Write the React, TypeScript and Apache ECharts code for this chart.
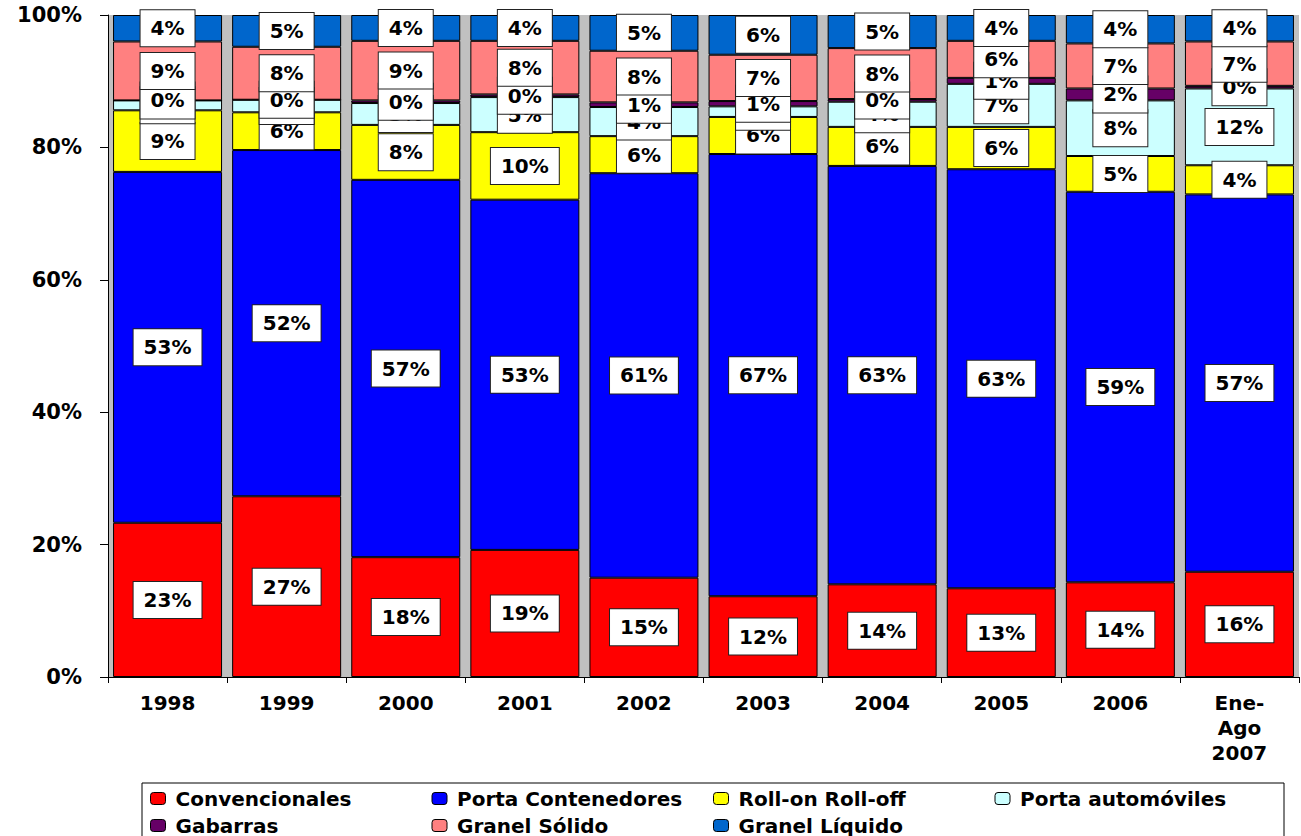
import React, { useEffect, useRef } from "react";
import * as echarts from "echarts";

const categories = ["1998", "1999", "2000", "2001", "2002", "2003", "2004", "2005", "2006", "Ene-\nAgo\n2007"];
const seriesNames = [
  "Convencionales",
  "Porta Contenedores",
  "Roll-on Roll-off",
  "Porta automóviles",
  "Gabarras",
  "Granel Sólido",
  "Granel Líquido",
];
const convencionales = [23.3, 27.3, 18.1, 19.2, 15.0, 12.2, 14.0, 13.4, 14.3, 15.9];
const portaContenedores = [53.0, 52.3, 57.0, 52.9, 61.1, 66.8, 63.2, 63.3, 59.0, 57.0];
const rollOnRollOff = [9.3, 5.7, 8.3, 10.2, 5.6, 5.6, 5.9, 6.4, 5.4, 4.4];
const portaAutomoviles = [1.5, 1.9, 3.3, 5.3, 4.4, 1.6, 3.8, 6.5, 8.4, 11.6];
const gabarras = [0.0, 0.0, 0.4, 0.4, 0.7, 0.8, 0.4, 0.9, 1.8, 0.4];
const granelSolido = [8.9, 8.0, 9.0, 8.1, 7.8, 7.0, 7.7, 5.6, 6.8, 6.7];
const granelLiquido = [4.0, 4.8, 3.9, 3.9, 5.4, 6.0, 5.0, 3.9, 4.3, 4.0];
const seriesValues = [
  convencionales,
  portaContenedores,
  rollOnRollOff,
  portaAutomoviles,
  gabarras,
  granelSolido,
  granelLiquido,
];
const colors = ["#FF0000", "#0000FF", "#FFFF00", "#CCFFFF", "#660066", "#FF8080", "#0066CC"];

const FONT = "DejaVu Sans";

export default function App() {
  const ref = useRef<HTMLDivElement>(null);
  useEffect(() => {
    if (!ref.current) return;
    const chart = echarts.init(ref.current, null, { renderer: "svg" });
    chart.setOption({
      animation: false,
      grid: {
        left: 108,
        right: 2,
        top: 15,
        bottom: 159,
        show: true,
        backgroundColor: "#C0C0C0",
        borderWidth: 0,
      },
      legend: {
        data: seriesNames,
        left: 142,
        top: 783,
        width: 1130,
        orient: "horizontal",
        itemWidth: 15,
        itemHeight: 12,
        itemGap: 0,
        padding: [2, 8, 2, 8],
        borderColor: "#000",
        borderWidth: 1,
        backgroundColor: "#fff",
        itemStyle: { borderColor: "#000", borderWidth: 1 },
        textStyle: {
          fontFamily: FONT,
          fontWeight: "bold",
          fontSize: 20,
          color: "#000",
          width: 256,
          lineHeight: 27,
          padding: [0, 0, 0, 5],
        },
      },
      xAxis: {
        type: "category",
        data: categories,
        axisLine: { lineStyle: { color: "#000", width: 1 } },
        axisTick: { show: true, length: 6, lineStyle: { color: "#000" } },
        axisLabel: {
          fontFamily: FONT,
          fontWeight: "bold",
          fontSize: 20,
          color: "#000",
          margin: 13,
          lineHeight: 25,
          interval: 0,
        },
      },
      yAxis: {
        type: "value",
        min: 0,
        max: 100,
        interval: 20,
        splitLine: { show: false },
        axisLine: { show: true, lineStyle: { color: "#000", width: 1 } },
        axisTick: { show: true, length: 8, lineStyle: { color: "#000" } },
        axisLabel: {
          formatter: "{value}%",
          fontFamily: FONT,
          fontWeight: "bold",
          fontSize: 21,
          color: "#000",
          margin: 26,
        },
      },
      series: seriesNames.map((name, i) => ({
        name,
        type: "bar",
        stack: "total",
        barWidth: 109,
        data: seriesValues[i],
        itemStyle: { color: colors[i], borderColor: "#000", borderWidth: 1 },
        label: {
          show: true,
          position: "inside",
          formatter: (p: any) => Math.round(p.value) + "%",
          fontFamily: FONT,
          fontWeight: "bold",
          fontSize: 20,
          lineHeight: 20,
          color: "#000",
          backgroundColor: "#fff",
          borderColor: "#222",
          borderWidth: 1,
          padding: [8, 10],
        },
      })),
    });
    return () => chart.dispose();
  }, []);
  return (
    <div
      ref={ref}
      style={{ position: "absolute", left: 0, top: 0, width: 1301, height: 836, overflow: "hidden" }}
    />
  );
}
